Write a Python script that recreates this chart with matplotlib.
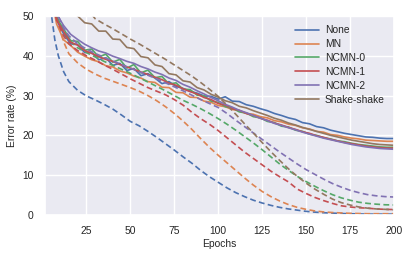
import matplotlib
matplotlib.use("Agg")
import matplotlib.pyplot as plt
import seaborn as sns

sns.set_theme(style="darkgrid")
plt.rcParams['font.family'] = ['Liberation Sans', 'DejaVu Sans']

names = ["None", "MN", "NCMN-0", "NCMN-1", "NCMN-2", "Shake-shake"]
colors = sns.color_palette("deep")[:6]

# test error (solid), sampled every 4 epochs
test_epochs = list(range(0, 201, 4))
test_none = [75, 58.5, 49, 45.5, 43.0, 42.8, 40.8, 40.9, 39.0, 39.5, 37.6, 38.1, 36.3, 36.8, 35.0, 35.5,
             34.4, 33.0, 33.5, 32.3, 31.8, 31.1, 30.6, 29.9, 29.8, 29.1, 29.7, 28.6, 28.5, 27.7, 27.3,
             26.7, 26.2, 25.5, 25.0, 24.4, 24.0, 23.2, 22.9, 22.2, 21.9, 21.3, 20.9, 20.5, 20.2, 19.9,
             19.6, 19.5, 19.3, 19.2, 19.2]
test_mn = [75, 57, 48, 44.0, 42.6, 40.9, 39.9, 39.0, 38.5, 37.5, 37.2, 36.2, 35.7, 34.9, 34.4, 33.5,
           33.3, 32.1, 32.0, 30.8, 30.7, 29.6, 29.5, 28.6, 28.3, 27.5, 27.2, 26.5, 26.2, 25.5, 25.3,
           24.7, 24.4, 23.7, 23.4, 22.8, 22.5, 21.9, 21.6, 21.0, 20.8, 20.2, 20.0, 19.6, 19.3, 19.1,
           18.8, 18.7, 18.6, 18.5, 18.5]
test_ncmn0 = [75, 58, 49.5, 46.8, 43.8, 43.6, 41.4, 41.7, 39.7, 40.4, 38.4, 39.1, 36.9, 37.8, 35.7, 36.4,
              34.5, 34.8, 32.9, 33.2, 31.6, 31.5, 30.1, 29.9, 28.6, 28.3, 27.2, 26.9, 25.9, 25.6, 24.7,
              24.4, 23.5, 23.2, 22.3, 22.1, 21.3, 21.0, 20.3, 20.0, 19.4, 19.1, 18.6, 18.4, 18.0, 17.7,
              17.5, 17.3, 17.1, 17.0, 17.0]
test_ncmn1 = [75, 57.5, 49, 46.1, 43.4, 42.7, 41.3, 40.6, 39.8, 39.1, 38.6, 37.8, 37.2, 36.6, 35.9, 35.3,
              34.6, 34.0, 33.1, 32.6, 31.7, 31.0, 30.4, 29.5, 29.0, 28.0, 27.6, 26.7, 26.3, 25.5, 25.0,
              24.3, 23.8, 23.1, 22.6, 22.0, 21.5, 20.9, 20.5, 19.9, 19.5, 19.0, 18.6, 18.2, 17.9, 17.6,
              17.3, 17.1, 16.9, 16.8, 16.8]
test_ncmn2 = [75, 59, 50.5, 47.6, 45.4, 44.1, 42.9, 42.0, 41.2, 40.7, 39.9, 39.3, 38.6, 38.1, 37.3, 36.7,
              35.9, 35.3, 34.4, 33.8, 32.8, 32.1, 31.2, 30.4, 29.5, 28.7, 27.8, 27.1, 26.3, 25.7, 25.0,
              24.3, 23.7, 23.0, 22.5, 21.9, 21.4, 20.8, 20.3, 19.8, 19.3, 18.9, 18.5, 18.1, 17.7, 17.4,
              17.1, 16.9, 16.7, 16.6, 16.5]
test_shake = [85, 68, 60, 55, 52, 50, 48.3, 48.0, 46.2, 46.2, 44.2, 44.1, 42.1, 41.8, 39.8, 39.5,
              37.7, 37.3, 35.5, 35.2, 33.7, 33.4, 32.0, 31.4, 30.3, 29.6, 28.7, 28.2, 27.3, 26.9, 26.2,
              25.6, 25.0, 24.3, 23.8, 23.1, 22.6, 22.0, 21.5, 21.0, 20.5, 20.0, 19.6, 19.2, 18.8, 18.5,
              18.2, 17.9, 17.7, 17.6, 17.5]

# train error (dashed)
train_epochs = [1, 3, 5, 7, 9, 12, 15] + list(range(20, 201, 5))
train_none = [70, 58, 50.5, 44, 40, 36, 33.5, 31.3, 29.9, 28.9, 27.8, 26.6, 25.1, 23.5, 22.4, 21.0, 19.5,
              17.9, 16.3, 14.6, 13.0, 11.2, 9.6, 8.2, 6.8, 5.6, 4.6, 3.7, 3.0, 2.4, 1.9, 1.5, 1.2, 0.9,
              0.7, 0.55, 0.45, 0.35, 0.3, 0.25, 0.2, 0.2, 0.2, 0.2]
train_mn = [75, 64, 58, 52, 48, 43.5, 40.5, 38.2, 36.6, 35.4, 34.4, 33.6, 32.8, 32.0, 31.1, 30.0, 28.7,
            27.2, 25.5, 23.6, 21.5, 19.2, 17.0, 15.0, 13.1, 11.2, 9.3, 7.5, 5.9, 4.6, 3.5, 2.6, 1.9,
            1.4, 1.0, 0.75, 0.6, 0.5, 0.4, 0.35, 0.3, 0.3, 0.3, 0.3]
train_ncmn0 = [75, 63, 57, 52, 49, 46, 44, 42, 40.8, 39.7, 38.6, 37.6, 36.6, 35.6, 34.5, 33.4, 32.3,
               31.2, 30.0, 28.8, 27.8, 26.7, 25.5, 24.2, 22.8, 21.3, 19.7, 18.1, 16.4, 14.6, 12.8, 11.2,
               9.7, 8.4, 7.2, 6.1, 5.1, 4.3, 3.7, 3.2, 2.9, 2.7, 2.55, 2.5]
train_ncmn1 = [75, 63, 56, 51, 48, 45, 43, 41.3, 40.0, 38.9, 37.7, 36.6, 35.4, 34.2, 33.1, 32.0, 31.1,
               30.2, 29.0, 27.6, 25.8, 24.2, 22.8, 21.2, 19.4, 17.6, 15.8, 14.2, 12.6, 11.0, 9.6, 8.3,
               6.5, 5.4, 4.4, 3.6, 2.9, 2.3, 2.0, 1.8, 1.7, 1.5, 1.4, 1.35]
train_ncmn2 = [76, 64, 58, 53, 50, 47, 45, 43, 41.7, 40.6, 39.6, 38.7, 37.8, 36.9, 36.0, 35.1, 34.2,
               33.2, 32.2, 31.2, 30.1, 29.0, 28.0, 27.0, 25.5, 23.8, 22.2, 20.6, 19.0, 17.4, 15.8, 14.3,
               12.8, 11.4, 10.2, 9.0, 7.9, 7.0, 6.2, 5.6, 5.1, 4.8, 4.6, 4.5]
train_shake = [95, 85, 78, 72, 68, 63, 60, 57, 52, 49.3, 48.0, 46.8, 45.5, 44.2, 43.0, 41.7, 40.4,
               39.1, 37.7, 36.3, 34.9, 33.3, 31.6, 29.8, 27.6, 25.3, 22.9, 20.6, 18.2, 15.9, 13.7, 11.6,
               9.7, 8.0, 6.5, 5.2, 4.0, 3.1, 2.5, 2.0, 1.7, 1.5, 1.4, 1.3]

tests = [test_none, test_mn, test_ncmn0, test_ncmn1, test_ncmn2, test_shake]
trains = [train_none, train_mn, train_ncmn0, train_ncmn1, train_ncmn2, train_shake]

fig = plt.figure(figsize=(4.15, 2.58), dpi=100)
ax = fig.add_axes([0.108, 0.167, 0.841, 0.771])

for name, c, te, tr in zip(names, colors, tests, trains):
    ax.plot(test_epochs, te, color=c, lw=1.2, label=name)
    ax.plot(train_epochs, tr, color=c, lw=1.2, ls=(0, (3.5, 2)))

ax.set_xlim(1.3, 200)
ax.set_ylim(0, 50)
ax.set_xticks([25, 50, 75, 100, 125, 150, 175, 200])
ax.set_yticks([0, 10, 20, 30, 40, 50])
ax.tick_params(labelsize=7.4, pad=2)
ax.set_xlabel("Epochs", fontsize=7.4, labelpad=2)
ax.set_ylabel("Error rate (%)", fontsize=7.4, labelpad=4)
ax.legend(loc="upper right", fontsize=7.4, frameon=False, handlelength=2.3,
          handletextpad=0.6, labelspacing=0.38, borderaxespad=0.5)

fig.savefig("out.png", dpi=100)
